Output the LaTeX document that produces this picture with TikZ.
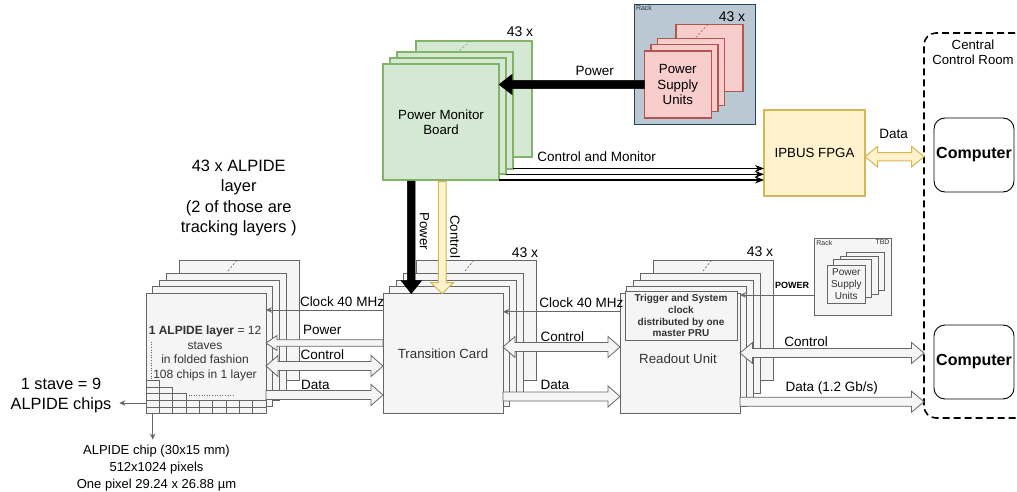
\documentclass[tikz,border=0pt]{standalone}
\usepackage{fontspec}
\setmainfont{Liberation Sans}
\usetikzlibrary{calc,arrows.meta}
\definecolor{gfill}{HTML}{F5F5F5}
\definecolor{gline}{HTML}{666666}
\definecolor{gtext}{HTML}{333333}
\definecolor{greenfill}{HTML}{D5E8D4}
\definecolor{greenline}{HTML}{82B366}
\definecolor{redfill}{HTML}{F8CECC}
\definecolor{redline}{HTML}{B85450}
\definecolor{rackfill}{HTML}{BAC8D3}
\definecolor{rackline}{HTML}{23445D}
\definecolor{yfill}{HTML}{FFF2CC}
\definecolor{yline}{HTML}{D6B656}
\newcommand\fsz[2]{\fontsize{#1}{#2}\selectfont}
% single-headed flat arrow: style, tail, tip, half shaft, half head, head length
\newcommand\flexA[6]{%
  \coordinate (fxb) at ($(#3)!#6!(#2)$);
  \draw[#1] ($(#2)!#4!90:(#3)$) -- ($(fxb)!#4!90:(#3)$) -- ($(fxb)!#5!90:(#3)$) -- (#3)
    -- ($(fxb)!#5!-90:(#3)$) -- ($(fxb)!#4!-90:(#3)$) -- ($(#2)!#4!-90:(#3)$) -- cycle;}
% double-headed flat arrow
\newcommand\flexB[6]{%
  \coordinate (fxa) at ($(#2)!#6!(#3)$);
  \coordinate (fxb) at ($(#3)!#6!(#2)$);
  \draw[#1] (#2) -- ($(fxa)!#5!90:(#3)$) -- ($(fxa)!#4!90:(#3)$) -- ($(fxb)!#4!90:(#3)$)
    -- ($(fxb)!#5!90:(#3)$) -- (#3) -- ($(fxb)!#5!-90:(#3)$) -- ($(fxb)!#4!-90:(#3)$)
    -- ($(fxa)!#4!-90:(#3)$) -- ($(fxa)!#5!-90:(#3)$) -- cycle;}
\begin{document}
\begin{tikzpicture}[x=1pt,y=-1pt,
  every node/.style={inner sep=0pt,outer sep=0pt},
  gbox/.style={draw=gline,fill=gfill,line width=0.8pt,anchor=north west,minimum width=120pt,minimum height=120pt,text=gtext,font=\fsz{13.3}{16}},
  gbs/.style={draw=gline,fill=gfill,line width=0.8pt,anchor=north west,minimum width=38pt,minimum height=38pt,text=gtext,font=\fsz{10}{11.8},align=center},
  pbox/.style={draw=greenline,fill=greenfill,line width=2pt,anchor=north west,minimum width=116pt,minimum height=116pt,font=\fsz{13.3}{15},align=center},
  rbox/.style={draw=redline,fill=redfill,line width=1.2pt,anchor=north west,minimum width=67pt,minimum height=67pt,font=\fsz{13.3}{15.5},align=center},
  lbl/.style={anchor=west,font=\fsz{13.5}{16}},
  cnt/.style={font=\fsz{14}{16}},
  tiny/.style={font=\fsz{7}{8},text=gtext},
  gflex/.style={draw=gline,fill=gfill,line width=0.8pt},
  yflex/.style={draw=yline,fill=yfill,line width=1pt},
  bflex/.style={draw=black,fill=black,line width=0.5pt},
  garrow/.style={draw=gline,line width=0.8pt,-{Stealth[length=6pt,width=5.5pt]}},
  karrow/.style={draw=black,line width=1.4pt,-{Stealth[length=9pt,width=7pt]}},
  stackdash/.style={dash pattern=on 2pt off 2pt,line width=0.6pt},
]
\useasboundingbox (0,0) rectangle (1017,492);

% ---------------- top rack with power supply units
\node[draw=rackline,fill=rackfill,line width=0.8pt,anchor=north west,minimum width=120.7pt,minimum height=120pt] (rack) at (634.3,4.3) {};
\node[tiny,anchor=north west] (racklbl) at (636,5.3) {Rack};
\node[rbox] (psu3) at (676,24.3) {};
\draw[redline,stackdash] ($(psu3.north west)+(32,0)$) -- ++(-12,13);
\node[rbox] (psu2) at (657.7,38.3) {};
\node[rbox] (psu1) at (651,44.3) {};
\node[rbox] (psu) at (644.3,51) {Power\\Supply\\Units};
\node[cnt] (n43psu) at (732,17) {43 x};

% ---------------- power monitor board stack
\node[pbox] (pmb3) at (416,41) {};
\draw[greenline,stackdash] ($(pmb3.north west)+(54,0)$) -- ++(-12,11);
\node[pbox] (pmb2) at (396.7,52.5) {};
\node[pbox] (pmb1) at (390,58.3) {};
\node[pbox] (pmb) at (383,64) {Power Monitor\\Board};
\node[cnt] (n43pmb) at (520,31.7) {43 x};

% ---------------- IPBUS FPGA
\node[draw=yline,fill=yfill,line width=2pt,minimum width=101pt,minimum height=86pt,font=\fsz{13.3}{16}] (ipbus) at (814.5,153) {IPBUS FPGA};

% ---------------- central control room
\begin{scope}
\clip (0,0) rectangle (1017,492);
\node[draw=black,dash pattern=on 7pt off 4pt,line width=1.6pt,rounded corners=12pt,anchor=north west,minimum width=125pt,minimum height=385pt] (ccr) at (924,33) {};
\end{scope}
\node[align=center,font=\fsz{13.2}{15}] (ccrlbl) at (973,52.5) {Central\\Control Room};
\node[draw=black,fill=white,line width=0.9pt,rounded corners=11pt,minimum width=80pt,minimum height=74pt,font=\bfseries\fsz{16}{19}] (comp1) at (974,155) {Computer};
\node[draw=black,fill=white,line width=0.9pt,rounded corners=11pt,minimum width=80pt,minimum height=74pt,font=\bfseries\fsz{16}{19}] (comp2) at (974,362) {Computer};

% ---------------- small rack
\node[gbs,minimum width=77.4pt,minimum height=76.7pt] (srack) at (814.3,238.3) {};
\node[tiny,anchor=north west] (srlbl) at (816.3,240) {Rack};
\node[tiny,anchor=north east] (srtbd) at (889.5,240) {TBD};
\node[gbs] (spsu3) at (846.7,252.5) {};
\node[gbs] (spsu2) at (840,256) {};
\node[gbs] (spsu1) at (833.3,259.5) {};
\node[gbs] (spsu) at (827.3,265) {Power\\Supply\\Units};

% ---------------- ALPIDE stack
\node[gbox] (alp4) at (179.3,260.2) {};
\draw[gline,stackdash] ($(alp4.north west)+(57.7,0)$) -- ++(-10,12);
\node[gbox] (alp3) at (166,273.5) {};
\node[gbox] (alp2) at (159.3,280.2) {};
\node[gbox] (alp1) at (152.7,286.8) {};
\node[gbox] (alp) at (146,293.5) {};
\node[align=center,font=\fsz{12}{14.4},text=gtext] (alptxt) at (205,353.3) {\textbf{1 ALPIDE layer} = 12\\staves\\in folded fashion\\108 chips in 1 layer};
\foreach \i/\n in {0/5,1/4,2/3,3/2,4/2,5/2,6/2,7/2,8/2} {
  \foreach \r in {1,...,\n} {
    \draw[gline,line width=0.6pt] ({146+13.333*\i},{413.5-6.667*\r}) rectangle +(13.333,6.667);
  }
}
\draw[gline,dotted,line width=0.6pt] (151.7,341.7) -- (151.7,380);
\draw[gline,dotted,line width=0.6pt] (188.5,395.5) -- (235,395.5);

% ---------------- transition card stack
\node[gbox] (tc4) at (416.3,260.2) {};
\draw[gline,stackdash] ($(tc4.north west)+(57.7,0)$) -- ++(-10,12);
\node[gbox] (tc3) at (403,273.5) {};
\node[gbox] (tc2) at (396.3,280.2) {};
\node[gbox] (tc1) at (389.7,286.8) {};
\node[gbox] (tc) at (383,293.5) {Transition Card};
\node[cnt] (n43tc) at (525,252.7) {43 x};

% ---------------- readout unit stack
\node[gbox] (ru4) at (653.3,260.2) {};
\draw[gline,stackdash] ($(ru4.north west)+(58.3,0)$) -- ++(-10,12.5);
\node[gbox] (ru3) at (640,273.5) {};
\node[gbox] (ru2) at (633.3,280.2) {};
\node[gbox] (ru1) at (626.7,286.8) {};
\node[gbox] (ru) at (620,293.5) {};
\node[draw=gline,fill=gfill,line width=0.8pt,anchor=north west,minimum width=112pt,minimum height=48.5pt,align=center,font=\bfseries\fsz{10}{11.7},text=gtext] (trig) at (625,291.5) {Trigger and System\\clock\\distributed by one\\master PRU};
\node[font=\fsz{13.3}{16},text=gtext] (rulbl) at (678,358.3) {Readout Unit};
\node[cnt] (n43ru) at (760,251.7) {43 x};

% ---------------- texts on the left
\node[align=center,font=\fsz{16.4}{20.3}] (alptitle) at (238.7,198) {43 x ALPIDE\\layer\\(2 of those are\\tracking layers )};
\node[align=center,font=\fsz{16.3}{20}] (stave) at (61,395) {1 stave = 9\\ALPIDE chips};
\node[align=center,font=\fsz{13}{16.7}] (chip) at (156.5,468.3) {ALPIDE chip (30x15 mm)\\512x1024 pixels\\One pixel 29.24 x 26.88 µm};
\coordinate (stvA) at (alp.west |- 0,403);
\draw[garrow,shorten >=8pt] (stvA) -- (stave.east |- stvA);
\coordinate (chA) at ($(alp.south west)+(6.7,0)$);
\draw[garrow,shorten >=6pt] (chA) -- (chA |- chip.north);

% ---------------- connectors PMB
\coordinate (bpA) at (psu.west);
\coordinate (bpB) at (pmb.east |- bpA);
\flexA{bflex}{bpA}{bpB}{4.2pt}{10pt}{13pt}
\node[lbl] (lpow0) at (575.7,71) {Power};
\coordinate (vpA) at ($(pmb.south west)+(28.3,1)$);
\coordinate (vpB) at (vpA |- tc.north);
\flexA{bflex}{vpA}{vpB}{3.9pt}{10.3pt}{13pt}
\coordinate (ycA) at ($(pmb.south west)+(59.2,1.5)$);
\coordinate (ycB) at (ycA |- tc.north);
\flexA{yflex}{ycA}{ycB}{3.8pt}{11.5pt}{11pt}
\node[rotate=-90,font=\fsz{13.3}{16}] (lpv) at (424.3,231) {Power};
\node[rotate=-90,font=\fsz{13.3}{16}] (lcv) at (455,236.7) {Control};
\draw[karrow] (pmb2.south east) -- (ipbus.west |- pmb2.south east);
\draw[karrow] (pmb1.south east) -- (ipbus.west |- pmb1.south east);
\draw[karrow] (pmb.south east) -- (ipbus.west |- pmb.south east);
\node[lbl] (lcm) at (537.3,157) {Control and Monitor};
\coordinate (ydA) at (ipbus.east |- 0,156.7);
\coordinate (ydB) at (ccr.west |- ydA);
\flexB{yflex}{ydA}{ydB}{4.2pt}{10.3pt}{12.5pt}
\node[lbl] (lydata) at (879.3,134) {Data};

% ---------------- connectors ALPIDE - TC
\draw[garrow] (tc.west |- 0,310) -- (alp.east |- 0,310);
\node[lbl] (lclk1) at (300,301.7) {Clock 40 MHz};
\coordinate (pw1A) at (tc.west |- 0,343);
\coordinate (pw1B) at (alp.east |- 0,343);
\flexA{gflex}{pw1A}{pw1B}{3.3pt}{7.5pt}{11pt}
\node[lbl] (lpow1) at (303,330) {Power};
\coordinate (ct1A) at (alp.east |- 0,366);
\coordinate (ct1B) at (tc.west |- 0,366);
\flexB{gflex}{ct1A}{ct1B}{4.5pt}{10.5pt}{12pt}
\node[lbl] (lctl1) at (300.5,354.5) {Control};
\coordinate (dt1A) at (alp.east |- 0,395);
\coordinate (dt1B) at (tc.west |- 0,395);
\flexA{gflex}{dt1A}{dt1B}{4.5pt}{10.5pt}{12pt}
\node[lbl] (ldat1) at (301,384.5) {Data};

% ---------------- connectors TC - RU
\draw[garrow] (ru.west |- 0,311.7) -- (tc.east |- 0,311.7);
\node[lbl] (lclk2) at (539.3,303) {Clock 40 MHz};
\coordinate (ct2A) at (tc.east |- 0,347);
\coordinate (ct2B) at (ru.west |- 0,347);
\flexB{gflex}{ct2A}{ct2B}{4.5pt}{10.5pt}{12pt}
\node[lbl] (lctl2) at (540.7,336.7) {Control};
\coordinate (dt2A) at (tc.east |- 0,396.5);
\coordinate (dt2B) at (ru.west |- 0,396.5);
\flexA{gflex}{dt2A}{dt2B}{4.5pt}{10.5pt}{12pt}
\node[lbl] (ldat2) at (540.7,385) {Data};

% ---------------- connectors RU - right
\draw[garrow] (srack.west |- 0,295) -- (ru.east |- 0,295);
\node[anchor=west,font=\bfseries\fsz{9}{11}] (lpw3) at (775,285.7) {POWER};
\coordinate (ct3A) at (ru.east |- 0,353);
\coordinate (ct3B) at (ccr.west |- 0,353);
\flexB{gflex}{ct3A}{ct3B}{4.5pt}{10.5pt}{12.5pt}
\node[lbl] (lctl3) at (784.3,341.7) {Control};
\coordinate (dt3A) at (ru.east |- 0,401.7);
\coordinate (dt3B) at (ccr.west |- 0,401.7);
\flexA{gflex}{dt3A}{dt3B}{4.5pt}{10.5pt}{12.5pt}
\node[lbl] (ldat3) at (785.7,388) {Data (1.2 Gb/s)};
\end{tikzpicture}
\end{document}
